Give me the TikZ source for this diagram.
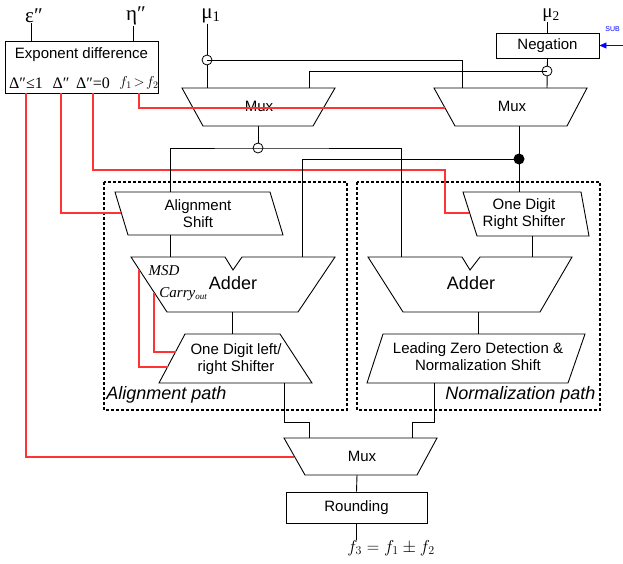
\documentclass[tikz,border=0pt]{standalone}
\usepackage[no-math]{fontspec}
\setmainfont{Liberation Sans}
\newfontfamily\tnr{Liberation Serif}
\usetikzlibrary{arrows.meta,positioning,calc}

\begin{document}
\begin{tikzpicture}[x=1pt, y=-1pt, line width=0.9pt,
  blk/.style={draw, line width=0.9pt},
  lbl/.style={font=\fontsize{15}{17}\selectfont, align=center, inner sep=0pt},
  big/.style={font=\fontsize{18}{20}\selectfont, inner sep=0pt},
  sym/.style={font=\fontsize{21}{23}\selectfont\tnr, inner sep=0pt},
  cond/.style={font=\fontsize{16}{18}\selectfont\tnr, inner sep=0pt},
  note/.style={font=\fontsize{15}{17}\selectfont\tnr\itshape, inner sep=0pt},
  sel/.style={draw=red!80, line width=1.2pt},
  region/.style={draw, line width=1.2pt, dash pattern=on 3pt off 2pt},
  ptitle/.style={font=\fontsize{18}{20}\selectfont\itshape, inner sep=0pt},
  jn/.style={circle, draw, fill=white, inner sep=0pt, minimum size=10pt, line width=0.8pt},
  dotjn/.style={circle, fill, inner sep=0pt, minimum size=11pt}
]
\useasboundingbox (0,0) rectangle (623,563);

% inputs
\node[sym] (eps) at (34,16) {ε″};
\node[sym] (eta) at (136,16) {η″};
\node[sym] (mu1) at (211,16) {μ\textsubscript{1}};
\node[sym, font=\fontsize{19}{21}\selectfont\tnr] (mu2) at (551,15) {μ\textsubscript{2}};

\node[blk, minimum width=153pt, minimum height=52pt] (expd) at (81.5,67) {};
\node[lbl] (expt) at (81.5,55) {Exponent difference};
\node[cond] (d1) at (26,83) {Δ″≤1};
\node[cond] (d2) at (61,83) {Δ″};
\node[cond] (d3) at (93,83) {Δ″=0};
\node[cond, font=\fontsize{14.5}{16}\selectfont] (d4) at (139,83) {$f_1\!>\!f_2$};

\node[blk, lbl, minimum width=103pt, minimum height=25pt] (neg) at (547.5,45.5) {Negation};
\node[font=\fontsize{7}{8}\selectfont, text=blue, anchor=west, inner sep=0pt] (sub) at (605,29) {SUB};
\coordinate (sub-in) at (623,45.5);

% multiplexers
\draw[blk] (182,88) -- (335,88) -- (313,126) -- (203,126) -- cycle;
\node[lbl] (lmux) at (259,106) {Mux};
\draw[blk] (434,88) -- (587,88) -- (567,126) -- (455,126) -- cycle;
\node[lbl] (rmux) at (512,106) {Mux};
\draw[blk] (284,438) -- (437,438) -- (417,475) -- (305,475) -- cycle;
\node[lbl] (bmux) at (362,456) {Mux};

% paths
\draw[region] (104,182) rectangle (347,410);
\draw[region] (357,182) rectangle (600,410);
\node[ptitle, anchor=south west] (apath) at (106,404) {Alignment path};
\node[ptitle, anchor=south west] (npath) at (445,404) {Normalization path};

\draw[blk] (115,192) -- (270,192) -- (283,235) -- (128,235) -- cycle;
\node[lbl] (ash) at (198,214) {Alignment\\Shift};
\draw[blk] (131,257) -- (225,257) -- (233,270) -- (242,257) -- (335,257) -- (298,312) -- (167,312) -- cycle;
\node[big] (ladd) at (233,283) {Adder};
\node[note] (msd) at (164,271) {MSD};
\node[note, anchor=west] (carry) at (159,294) {Carry\textsubscript{\fontsize{9}{10}\selectfont out}};
\draw[blk] (185,334) -- (280,334) -- (312,383) -- (159,383) -- cycle;
\node[lbl] (lsh) at (236,359) {One Digit left/\\right Shifter};

\draw[blk] (463,192) -- (581,192) -- (589,236) -- (477,236) -- cycle;
\node[lbl] (rsh) at (524,214) {One Digit\\Right Shifter};
\draw[blk] (368,257) -- (462,257) -- (470,270) -- (480,257) -- (572,257) -- (540,312) -- (403,312) -- cycle;
\node[big] (radd) at (471,283) {Adder};
\draw[blk] (383,334) -- (585,334) -- (568,383) -- (367,383) -- cycle;
\node[lbl] (lzd) at (478,357) {Leading Zero Detection \&\\Normalization Shift};

\node[blk, lbl, minimum width=141pt, minimum height=31pt] (rnd) at (356.5,507.5) {Rounding};
\node[font=\fontsize{18}{20}\selectfont, inner sep=0pt] (res) at (391,548) {$f_3=f_1\pm f_2$};

% ports
\coordinate (expd-e) at (31,41);
\coordinate (expd-h) at (133,41);
\coordinate (lmux-a) at (207,88);
\coordinate (lmux-b) at (309,88);
\coordinate (lmux-o) at (258,126);
\coordinate (rmux-a) at (462,88);
\coordinate (rmux-b) at (547,88);
\coordinate (rmux-o) at (519,126);
\coordinate (rmux-s) at (445,108);
\coordinate (bmux-a) at (309,438);
\coordinate (bmux-b) at (412,438);
\coordinate (bmux-o) at (357,475);
\coordinate (bmux-s) at (294,457);
\coordinate (ash-i) at (170,192);
\coordinate (ash-o) at (170,235);
\coordinate (ash-s) at (121,213);
\coordinate (rsh-i) at (519,192);
\coordinate (rsh-o) at (532,236);
\coordinate (rsh-s) at (469,213);
\coordinate (rsh-k) at (445,170);
\coordinate (ladd-a) at (170,257);
\coordinate (ladd-b) at (302,257);
\coordinate (ladd-o) at (232,312);
\coordinate (ladd-m) at (139,270);
\coordinate (ladd-c) at (154,293);
\coordinate (radd-a) at (401,257);
\coordinate (radd-b) at (532,257);
\coordinate (radd-o) at (478,312);
\coordinate (lsh-i) at (232,334);
\coordinate (lsh-o) at (284,383);
\coordinate (lsh-m) at (168,367);
\coordinate (lsh-c) at (176,352);
\coordinate (lzd-i) at (478,334);
\coordinate (lzd-o) at (434,383);
\coordinate (bus) at (0,422);
\coordinate (jp1) at (207,60);
\coordinate (jp2) at (547,71);
\coordinate (jp3) at (258,148);
\coordinate (jp4) at (519,159);

% control lines
\draw[sel] (d1 |- expd.south) |- (bmux-s);
\draw[sel] (d2 |- expd.south) |- (ash-s);
\draw[sel] (d3 |- expd.south) |- (rsh-k) |- (rsh-s);
\draw[sel] (d4 |- expd.south) |- (rmux-s);
\draw[sel] (ladd-m) |- (lsh-m);
\draw[sel] (ladd-c) |- (lsh-c);
\draw[blue, line width=0.9pt, -{Triangle[length=7pt,width=6pt]}] (sub-in) -- (neg.east);

% data lines
\draw (eps.south -| expd-e) -- (expd-e);
\draw (eta.south -| expd-h) -- (expd-h);
\draw (mu1.south -| lmux-a) -- (lmux-a);
\draw (mu2.south -| neg.north) -- (neg.north);
\draw (neg.south) -- (rmux-b);
\draw (lmux-o) -- (jp3);
\draw (rmux-o) -- (rsh-i);

\node[jn] (j1) at (jp1) {};
\node[jn] (j2) at (jp2) {};
\node[jn] (j3) at (jp3) {};
\node[dotjn] (j4) at (jp4) {};

\draw (j1.center) -| (rmux-a);
\draw (j2.center) -| (lmux-b);
\draw (ash-i) |- (j3.center) -| (radd-a);
\draw (j4.center) -| (ladd-b);
\draw (ash-o) -- (ladd-a);
\draw (rsh-o) -- (radd-b);
\draw (ladd-o) -- (lsh-i);
\draw (radd-o) -- (lzd-i);
\draw (lsh-o) -- (lsh-o |- bus) -| (bmux-a);
\draw (lzd-o) -- (lzd-o |- bus) -| (bmux-b);
\draw (bmux-o) -- (rnd.north);
\draw (rnd.south) -- (rnd.south |- res.north);

\end{tikzpicture}
\end{document}
